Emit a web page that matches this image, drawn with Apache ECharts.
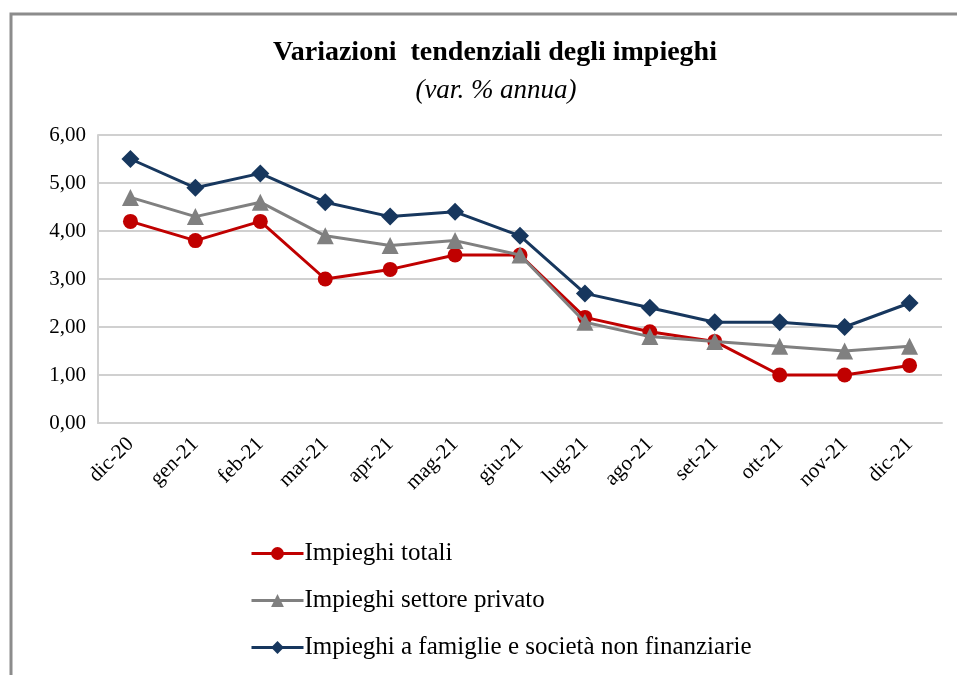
<!DOCTYPE html>
<html>
<head>
<meta charset="utf-8">
<script src="https://cdn.jsdelivr.net/npm/echarts@6/dist/echarts.min.js"></script>
<style>
  html, body { margin: 0; padding: 0; background: #ffffff; }
  #chart { width: 957px; height: 675px; }
</style>
</head>
<body>
<div id="chart"></div>
<script>
// mesi sull'asse x
const mesi = ["dic-20", "gen-21", "feb-21", "mar-21", "apr-21", "mag-21", "giu-21",
  "lug-21", "ago-21", "set-21", "ott-21", "nov-21", "dic-21"];
const impieghiTotali = [4.2, 3.8, 4.2, 3.0, 3.2, 3.5, 3.5, 2.2, 1.9, 1.7, 1.0, 1.0, 1.2];
const settorePrivato = [4.7, 4.3, 4.6, 3.9, 3.7, 3.8, 3.5, 2.1, 1.8, 1.7, 1.6, 1.5, 1.6];
const famiglieSnf = [5.5, 4.9, 5.2, 4.6, 4.3, 4.4, 3.9, 2.7, 2.4, 2.1, 2.1, 2.0, 2.5];
const nomiSerie = ["Impieghi totali", "Impieghi settore privato",
  "Impieghi a famiglie e società non finanziarie"];

const font = "'Liberation Serif', 'Times New Roman', serif";
var chart = echarts.init(document.getElementById("chart"));

const option = {
  backgroundColor: "#ffffff",
  textStyle: { fontFamily: font },
  animation: false,
  graphic: [{
    type: "rect",
    shape: { x: 11, y: 14, width: 1000, height: 700 },
    style: { fill: "none", stroke: "#8c8c8c", lineWidth: 3 }
  }],
  title: [{
    text: "Variazioni  tendenziali degli impieghi",
    left: 490, top: 34, textAlign: "center",
    textStyle: { fontFamily: font, fontSize: 28, fontWeight: "bold", color: "#000" }
  }, {
    text: "(var. % annua)",
    left: 491, top: 72, textAlign: "center",
    textStyle: { fontFamily: font, fontSize: 27, fontStyle: "italic", fontWeight: "normal", color: "#000" }
  }],
  legend: {
    orient: "vertical",
    left: 245, top: 536,
    itemGap: 22,
    itemWidth: 52, itemHeight: 16,
    lineStyle: { width: 3 },
    textStyle: { fontFamily: font, fontSize: 25, color: "#000", padding: [0, 0, 0, -4] },
    data: nomiSerie
  },
  grid: { left: 98, right: 15, top: 135, bottom: 252, containLabel: false },
  xAxis: {
    type: "category",
    data: mesi,
    boundaryGap: true,
    axisLine: { lineStyle: { color: "#d0d0d0", width: 2 } },
    axisTick: { show: false },
    axisLabel: { rotate: 45, fontFamily: font, fontSize: 21, color: "#000", margin: 18, interval: 0 }
  },
  yAxis: {
    type: "value",
    min: 0, max: 6, interval: 1,
    axisLine: { show: true, lineStyle: { color: "#d0d0d0", width: 2 } },
    axisTick: { show: false },
    splitLine: { lineStyle: { color: "#d0d0d0", width: 2 } },
    axisLabel: {
      fontFamily: font, fontSize: 21, color: "#000", margin: 12,
      formatter: v => v.toFixed(2).replace(".", ",")
    }
  },
  series: [{
    name: nomiSerie[0], type: "line", data: impieghiTotali,
    symbol: "circle", symbolSize: 15,
    itemStyle: { color: "#c00000" }, lineStyle: { color: "#c00000", width: 3 }, z: 3
  }, {
    name: nomiSerie[1], type: "line", data: settorePrivato,
    symbol: "triangle", symbolSize: 17,
    itemStyle: { color: "#808080" }, lineStyle: { color: "#808080", width: 3 }, z: 4
  }, {
    name: nomiSerie[2], type: "line", data: famiglieSnf,
    symbol: "diamond", symbolSize: 18,
    itemStyle: { color: "#17375e" }, lineStyle: { color: "#17375e", width: 3 }, z: 5
  }]
};

chart.setOption(option);
</script>
</body>
</html>
